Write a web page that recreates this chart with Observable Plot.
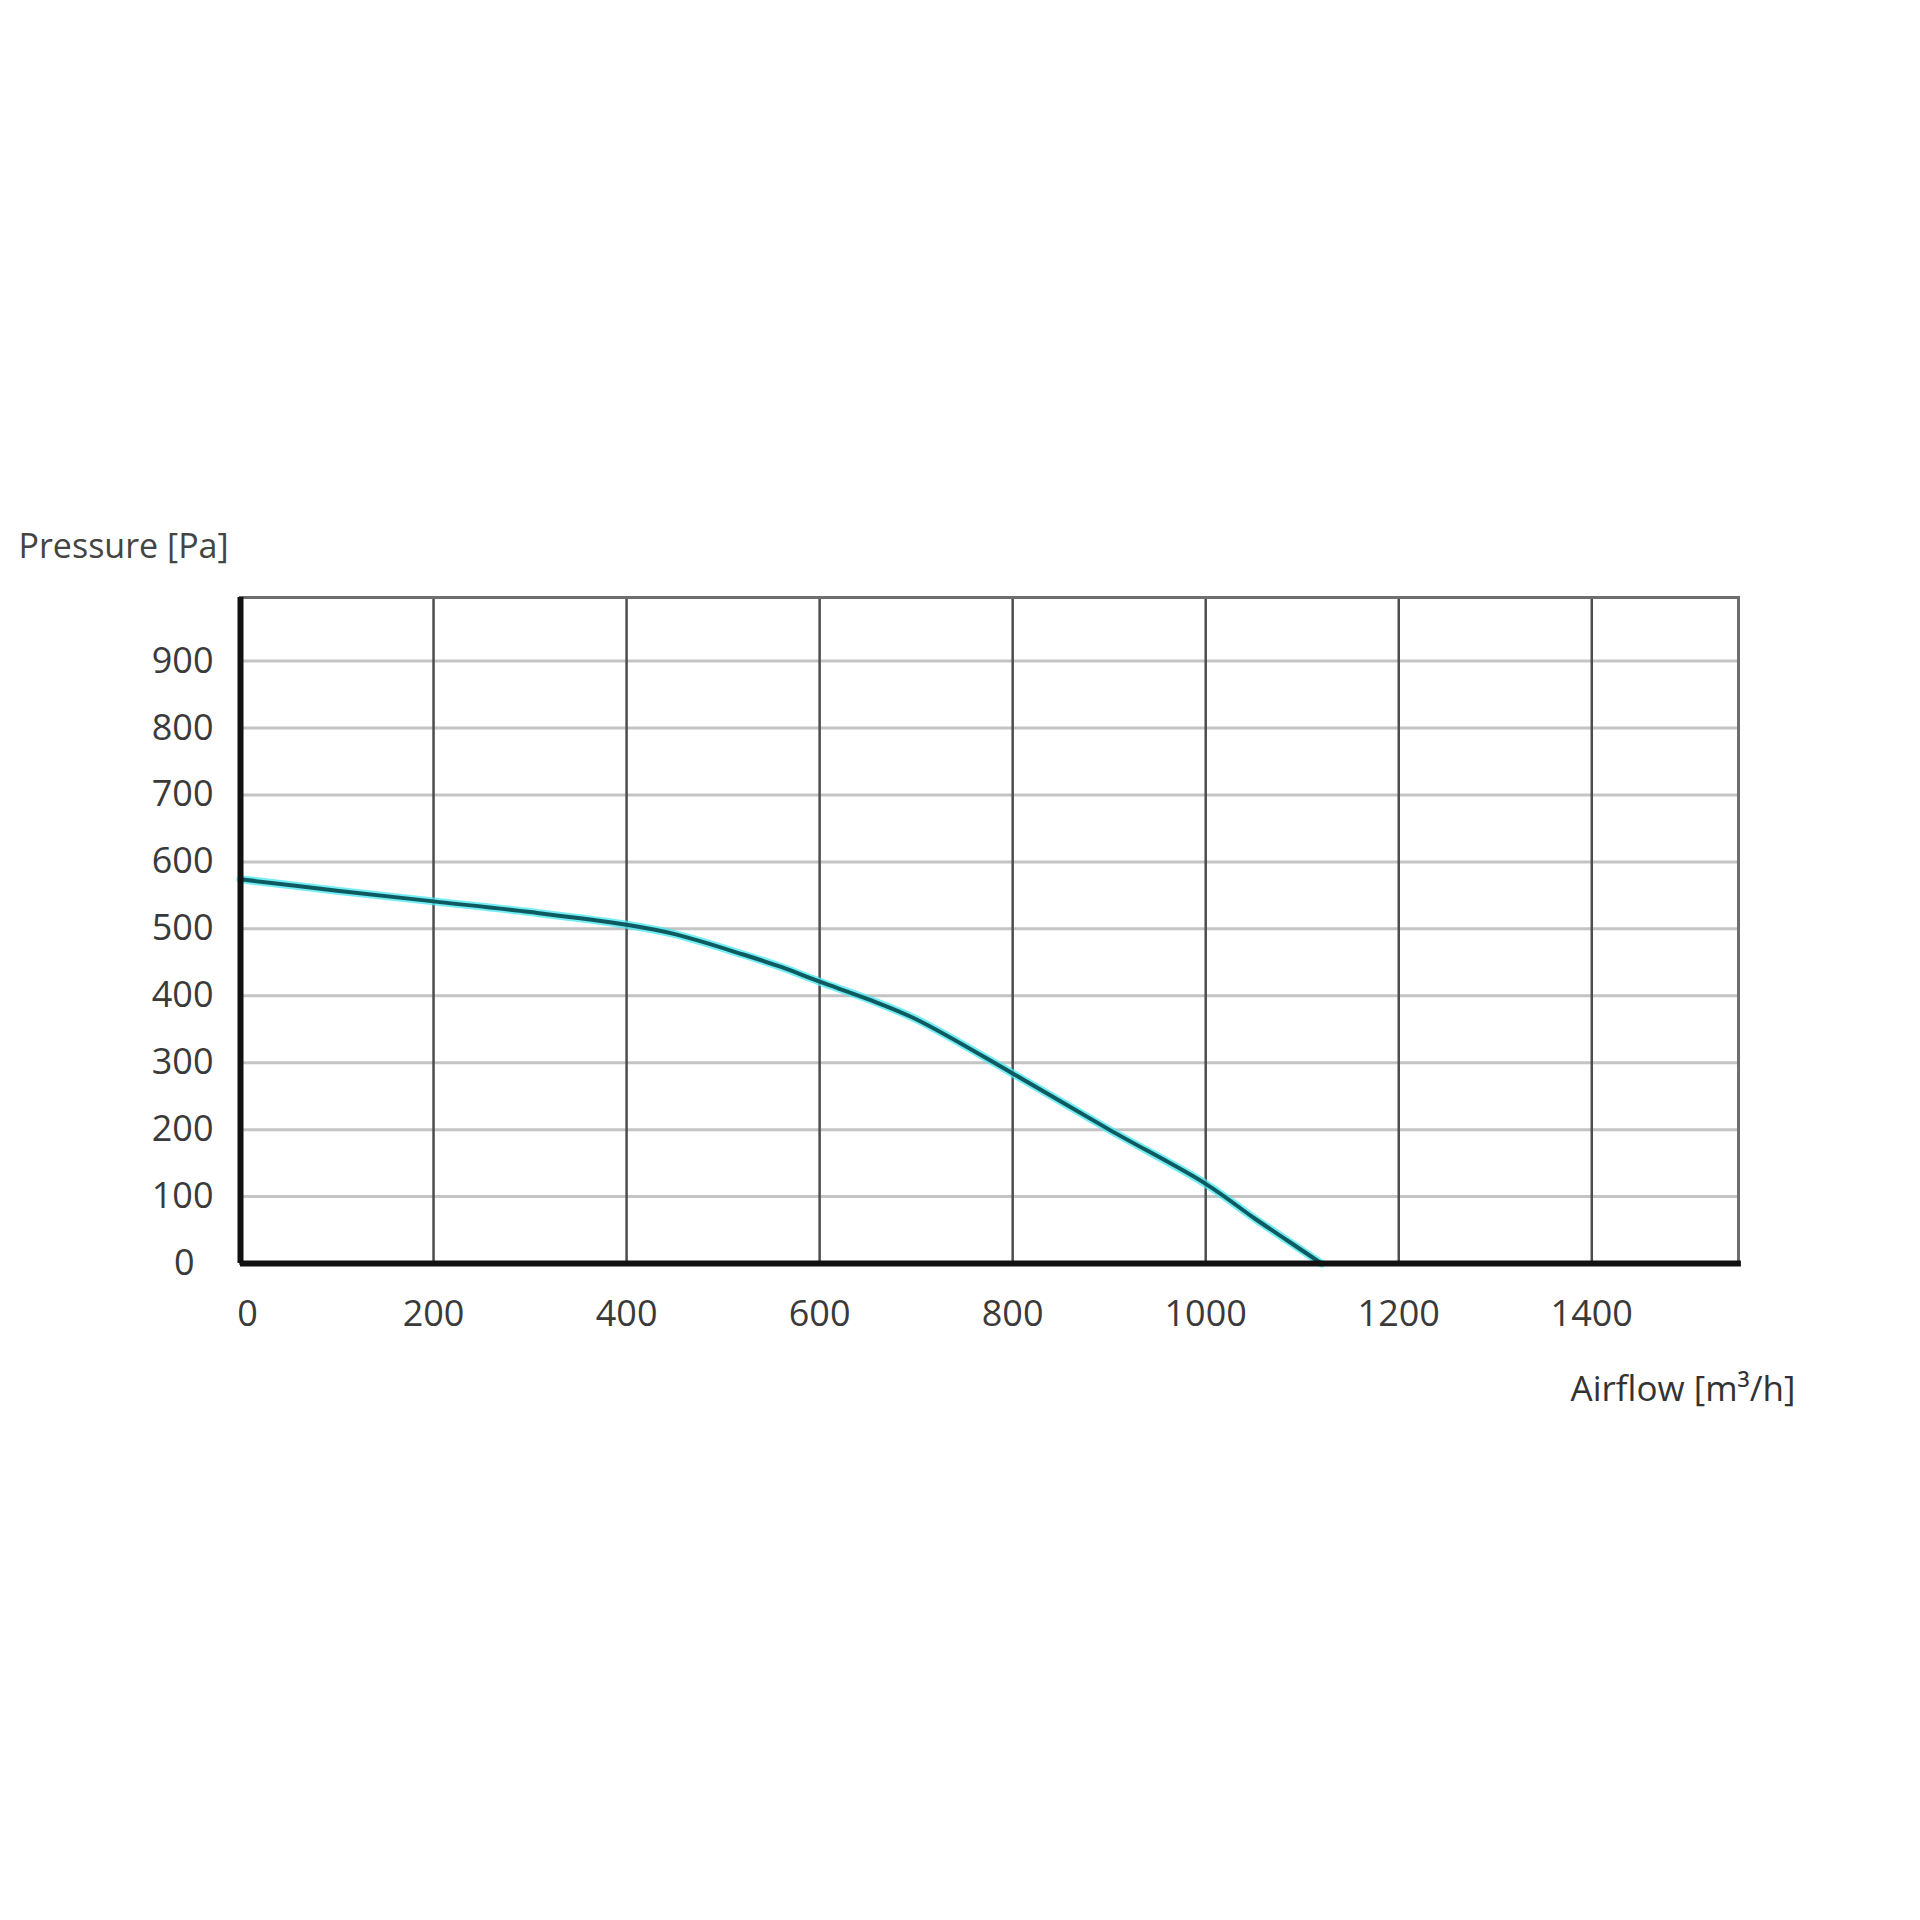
<!DOCTYPE html>
<html>
<head>
<meta charset="utf-8">
<script src="https://cdn.jsdelivr.net/npm/d3@7"></script>
<script src="https://cdn.jsdelivr.net/npm/@observablehq/plot@0.6"></script>
<style>
  html, body { margin: 0; padding: 0; background: #fff; }
  #chart svg { display: block; }
</style>
</head>
<body>
<div id="chart"></div>
<script>
// Fan curve data
const airflow  = [0, 100, 200, 300, 400, 450, 520, 560, 600, 650, 700, 800, 900, 1000, 1050, 1085, 1120];
const pressure = [574, 557, 541, 525, 506, 492, 462, 443, 421, 395, 365, 284, 200, 119, 68, 34, 0];
const xTicks = [0, 200, 400, 600, 800, 1000, 1200, 1400];
const yTicks = [0, 100, 200, 300, 400, 500, 600, 700, 800, 900];
const yTitle = "Pressure [Pa]";
const xTitle = "Airflow [m³/h]";

const data = airflow.map((x, i) => ({x, y: pressure[i]}));
const fmt = d => String(d);

const chart = Plot.plot({
  width: 1920,
  height: 1920,
  marginLeft: 240,
  marginRight: 182,
  marginTop: 597,
  marginBottom: 657,
  x: {domain: [0, 1552]},
  y: {domain: [0, 995]},
  style: {fontFamily: "'Open Sans', sans-serif", fontSize: "36px", color: "#3a3a3a", background: "#fff"},
  marks: [
    Plot.gridY(yTicks.filter(d => d > 0), {stroke: "#c4c4c4", strokeWidth: 3, strokeOpacity: 1}),
    Plot.gridX(xTicks.filter(d => d > 0), {stroke: "#4d4d4d", strokeWidth: 2.5, strokeOpacity: 1}),
    Plot.frame({stroke: "#6e6e6e", strokeWidth: 3}),
    Plot.line(data, {x: "x", y: "y", stroke: "#45e8f0", strokeWidth: 8, strokeOpacity: 0.75, curve: "catmull-rom"}),
    Plot.line(data, {x: "x", y: "y", stroke: "#0d5b61", strokeWidth: 4, curve: "catmull-rom"}),
    Plot.ruleX([0], {stroke: "#111", strokeWidth: 6}),
    Plot.ruleY([0], {stroke: "#111", strokeWidth: 6, x1: 0, x2: 1555}),
    Plot.axisY(yTicks.filter(d => d > 0), {tickSize: 0, tickPadding: 27, label: null, fontSize: 36, tickFormat: fmt}),
    Plot.axisY([0], {tickSize: 0, tickPadding: 46, label: null, fontSize: 36, tickFormat: fmt}),
    Plot.axisX(xTicks.filter(d => d > 0), {tickSize: 0, tickPadding: 37, label: null, fontSize: 36, tickFormat: fmt}),
    Plot.axisX([0], {tickSize: 0, tickPadding: 37, label: null, fontSize: 36, tickFormat: fmt, dx: 7}),
    Plot.text([yTitle], {frameAnchor: "top-left", textAnchor: "start", lineAnchor: "middle", dx: -222, dy: -50, fontSize: 34, fill: "#444"}),
    Plot.text([xTitle], {frameAnchor: "bottom-right", textAnchor: "end", lineAnchor: "middle", dx: 57, dy: 126, fontSize: 35, fill: "#333"})
  ]
});
document.getElementById("chart").append(chart);
</script>
</body>
</html>
